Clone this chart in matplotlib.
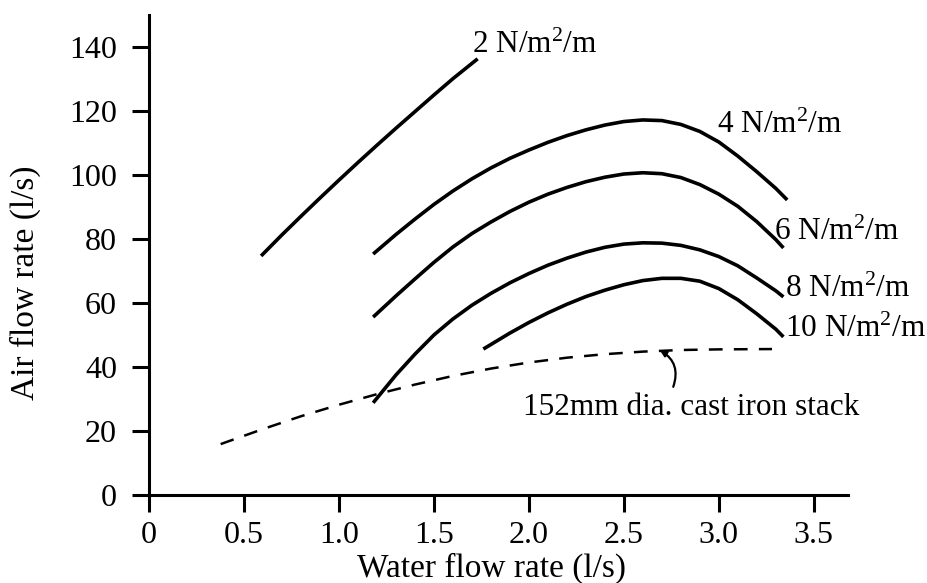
import matplotlib
matplotlib.use("Agg")
import matplotlib.pyplot as plt

plt.rcParams['font.family'] = ['Liberation Serif', 'DejaVu Serif']
plt.rcParams['mathtext.fontset'] = 'custom'
plt.rcParams['mathtext.rm'] = 'Liberation Serif'
plt.rcParams['mathtext.it'] = 'Liberation Serif:italic'

# --- data ---
c2_x = [0.59, 0.70, 0.80, 0.90, 1.00, 1.10, 1.20, 1.30, 1.40, 1.50, 1.60, 1.73]
c2_y = [74.7, 81.3, 87.1, 92.8, 98.4, 103.9, 109.3, 114.6, 119.8, 125.0, 130.1, 136.3]

c4_x = [1.18, 1.30, 1.40, 1.50, 1.60, 1.70, 1.80, 1.90, 2.00, 2.10, 2.20, 2.30,
        2.40, 2.50, 2.60, 2.70, 2.80, 2.90, 3.00, 3.10, 3.20, 3.30, 3.36]
c4_y = [75.3, 81.4, 86.2, 90.8, 95.0, 98.8, 102.2, 105.2, 107.8, 110.2, 112.3, 114.1,
        115.6, 116.7, 117.2, 117.0, 115.8, 113.6, 110.3, 105.9, 101.0, 95.8, 92.2]

c6_x = [1.18, 1.30, 1.40, 1.50, 1.60, 1.70, 1.80, 1.90, 2.00, 2.10, 2.20, 2.30,
        2.40, 2.50, 2.60, 2.70, 2.80, 2.90, 3.00, 3.10, 3.20, 3.30, 3.34]
c6_y = [55.6, 62.2, 67.5, 72.7, 77.5, 81.7, 85.3, 88.6, 91.5, 94.0, 96.1, 97.9,
        99.3, 100.3, 100.7, 100.4, 99.2, 97.0, 94.0, 90.2, 85.4, 79.8, 77.2]

c8_x = [1.18, 1.30, 1.40, 1.50, 1.60, 1.70, 1.80, 1.90, 2.00, 2.10, 2.20, 2.30,
        2.40, 2.50, 2.60, 2.70, 2.80, 2.90, 3.00, 3.10, 3.20, 3.30, 3.34]
c8_y = [28.8, 37.5, 44.0, 50.0, 55.0, 59.3, 63.0, 66.3, 69.2, 71.8, 74.0, 75.9,
        77.4, 78.4, 78.8, 78.7, 78.0, 76.6, 74.5, 71.6, 67.8, 63.8, 61.9]

c10_x = [1.76, 1.90, 2.00, 2.10, 2.20, 2.30, 2.40, 2.50, 2.60, 2.70, 2.80, 2.90,
         3.00, 3.10, 3.20, 3.30, 3.34]
c10_y = [45.6, 50.6, 53.9, 56.9, 59.6, 62.0, 64.0, 65.7, 67.0, 67.7, 67.7, 66.8,
         64.5, 61.0, 56.6, 51.8, 49.4]

stack_x = [0.377, 0.60, 0.80, 1.00, 1.20, 1.40, 1.60, 1.80, 2.00, 2.20, 2.40,
           2.60, 2.80, 3.00, 3.28]
stack_y = [15.9, 20.6, 24.6, 28.2, 31.5, 34.5, 37.2, 39.5, 41.4, 42.9, 44.0,
           44.8, 45.3, 45.5, 45.6]

x_ticks = [0, 0.5, 1.0, 1.5, 2.0, 2.5, 3.0, 3.5]
x_ticklabels = ['0', '0.5', '1.0', '1.5', '2.0', '2.5', '3.0', '3.5']
y_ticks = [0, 20, 40, 60, 80, 100, 120, 140]

labels = ['2 N/m$^2$/m', '4 N/m$^2$/m', '6 N/m$^2$/m', '8 N/m$^2$/m', '10 N/m$^2$/m']
label_pos = [(1.70, 138.0), (2.99, 113.1), (3.29, 79.7), (3.35, 61.9), (3.35, 49.4)]

fig = plt.figure(figsize=(9.28, 5.83), dpi=100)
ax = fig.add_axes([0.1606, 0.151, 0.7532, 0.8233])

lw = 2.6
for xs, ys in [(c2_x, c2_y), (c4_x, c4_y), (c6_x, c6_y), (c8_x, c8_y), (c10_x, c10_y)]:
    ax.plot(xs, ys, color='black', lw=lw, solid_capstyle='butt', solid_joinstyle='round')

ax.plot(stack_x, stack_y, color='black', lw=1.8, linestyle=(0, (5.5, 4.5)))

for txt, (tx, ty) in zip(labels, label_pos):
    ax.text(tx, ty, txt, fontsize=22.5, ha='left', va='baseline', color='black')

ax.text(1.97, 25.0, '152mm dia. cast iron stack', fontsize=22.5, ha='left', va='baseline')
ax.annotate('', xy=(2.69, 45.2), xytext=(2.76, 33.8),
            arrowprops=dict(arrowstyle='-|>', connectionstyle='arc3,rad=0.4',
                            lw=1.6, color='black', mutation_scale=9,
                            shrinkA=0, shrinkB=0))

ax.set_xlim(0, 3.68)
ax.set_ylim(0, 150)
ax.set_xticks(x_ticks)
ax.set_xticklabels(x_ticklabels)
ax.set_yticks(y_ticks)
for s in ['top', 'right']:
    ax.spines[s].set_visible(False)
for s in ['left', 'bottom']:
    ax.spines[s].set_linewidth(2.2)
ax.tick_params(axis='both', direction='out', length=12, width=2.2, labelsize=23)
ax.tick_params(axis='y', pad=11)
ax.tick_params(axis='x', pad=7)

fig.text(25 / 928, 0.515, 'Air flow rate (l/s)', rotation=90, fontsize=24,
         ha='center', va='center')
fig.text(0.530, 6 / 583, 'Water flow rate (l/s)', fontsize=24, ha='center', va='baseline')

fig.savefig('out.png', dpi=100)
